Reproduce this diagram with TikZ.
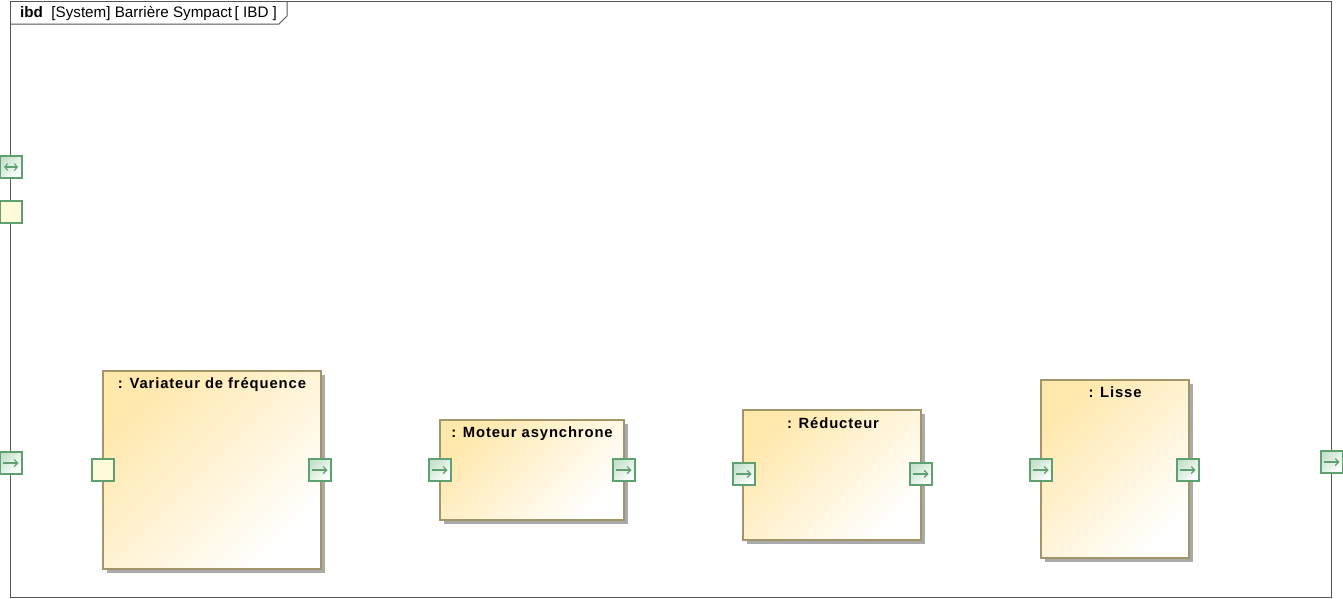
\documentclass[tikz,border=0pt]{standalone}
\usepackage{fontspec}
\setmainfont{Liberation Sans}
\newfontfamily\blockfont[LetterSpace=6]{Liberation Sans}
\usetikzlibrary{shadows,arrows.meta}
\definecolor{frameline}{HTML}{555555}
\definecolor{blockline}{HTML}{A3956A}
\definecolor{blocktop}{HTML}{FFE8AC}
\definecolor{portline}{HTML}{5FA070}
\definecolor{portfill}{HTML}{C6E2CC}
\definecolor{portyellow}{HTML}{FFFBD8}
\definecolor{shadowgray}{HTML}{AAAAAA}
\tikzset{
  blockbox/.style={draw=blockline, line width=1.2pt, top color=blocktop, bottom color=white,
    shading angle=45, inner sep=0pt,
    drop shadow={shadow xshift=4pt, shadow yshift=-4pt, fill=shadowgray, opacity=1}},
  blocklabel/.style={font=\blockfont\bfseries\fontsize{14.8}{16}\selectfont, anchor=north, inner sep=0pt},
  portbase/.style={draw=portline, line width=1.2pt, minimum width=22pt, minimum height=22pt, inner sep=0pt},
  portout/.style={portbase, top color=portfill, bottom color=white, shading angle=45,
    path picture={\draw[portline, line width=1.1pt, -{Straight Barb[length=3.5pt,width=7pt]}]
      ([xshift=3pt]path picture bounding box.west) -- ([xshift=-3.5pt]path picture bounding box.east);}},
  portboth/.style={portbase, top color=portfill, bottom color=white, shading angle=45,
    path picture={\draw[portline, line width=1.1pt, {Straight Barb[length=3pt,width=7pt]}-{Straight Barb[length=3pt,width=7pt]}]
      ([xshift=4pt]path picture bounding box.west) -- ([xshift=-4pt]path picture bounding box.east);}},
  portplain/.style={portbase, fill=portyellow},
}
\begin{document}
\begin{tikzpicture}[x=1pt,y=-1pt]
\useasboundingbox (0,0) rectangle (1343,598);
% frame
\draw[frameline, line width=1pt] (10,1) rectangle (1331,597);
\draw[frameline, line width=1pt] (10,24) -- (279,24) -- (287,16) -- (287,1);
\node[anchor=west, inner sep=0pt, font=\fontsize{15.2}{17}\selectfont] (title) at (20,13)
  {\textbf{ibd}\ \ [System] Barrière Sympact\,[ IBD ]};
% frame ports
\node[portboth] (fp1) at (11,167) {};
\node[portplain] (fp2) at (11,212) {};
\node[portout] (fp3) at (11,463) {};
\node[portout] (fp4) at (1332,462) {};
% blocks
\node[blockbox, minimum width=218pt, minimum height=198pt] (var) at (212,470) {};
\node[blocklabel] (varl) at (212,377) {: Variateur de fréquence};
\node[portplain] (varin) at (103,470) {};
\node[portout] (varout) at (320,470) {};

\node[blockbox, minimum width=184pt, minimum height=100pt] (mot) at (532,470) {};
\node[blocklabel] (motl) at (532,427) {: Moteur asynchrone};
\node[portout] (motin) at (440,470) {};
\node[portout] (motout) at (624,470) {};

\node[blockbox, minimum width=178pt, minimum height=130pt] (red) at (832,475) {};
\node[blocklabel] (redl) at (833,417) {: Réducteur};
\node[portout] (redin) at (744,474) {};
\node[portout] (redout) at (921,474) {};

\node[blockbox, minimum width=148pt, minimum height=178pt] (lis) at (1115,469) {};
\node[blocklabel] (lisl) at (1115,387) {: Lisse};
\node[portout] (lisin) at (1041,470) {};
\node[portout] (lisout) at (1188,470) {};
\end{tikzpicture}
\end{document}
